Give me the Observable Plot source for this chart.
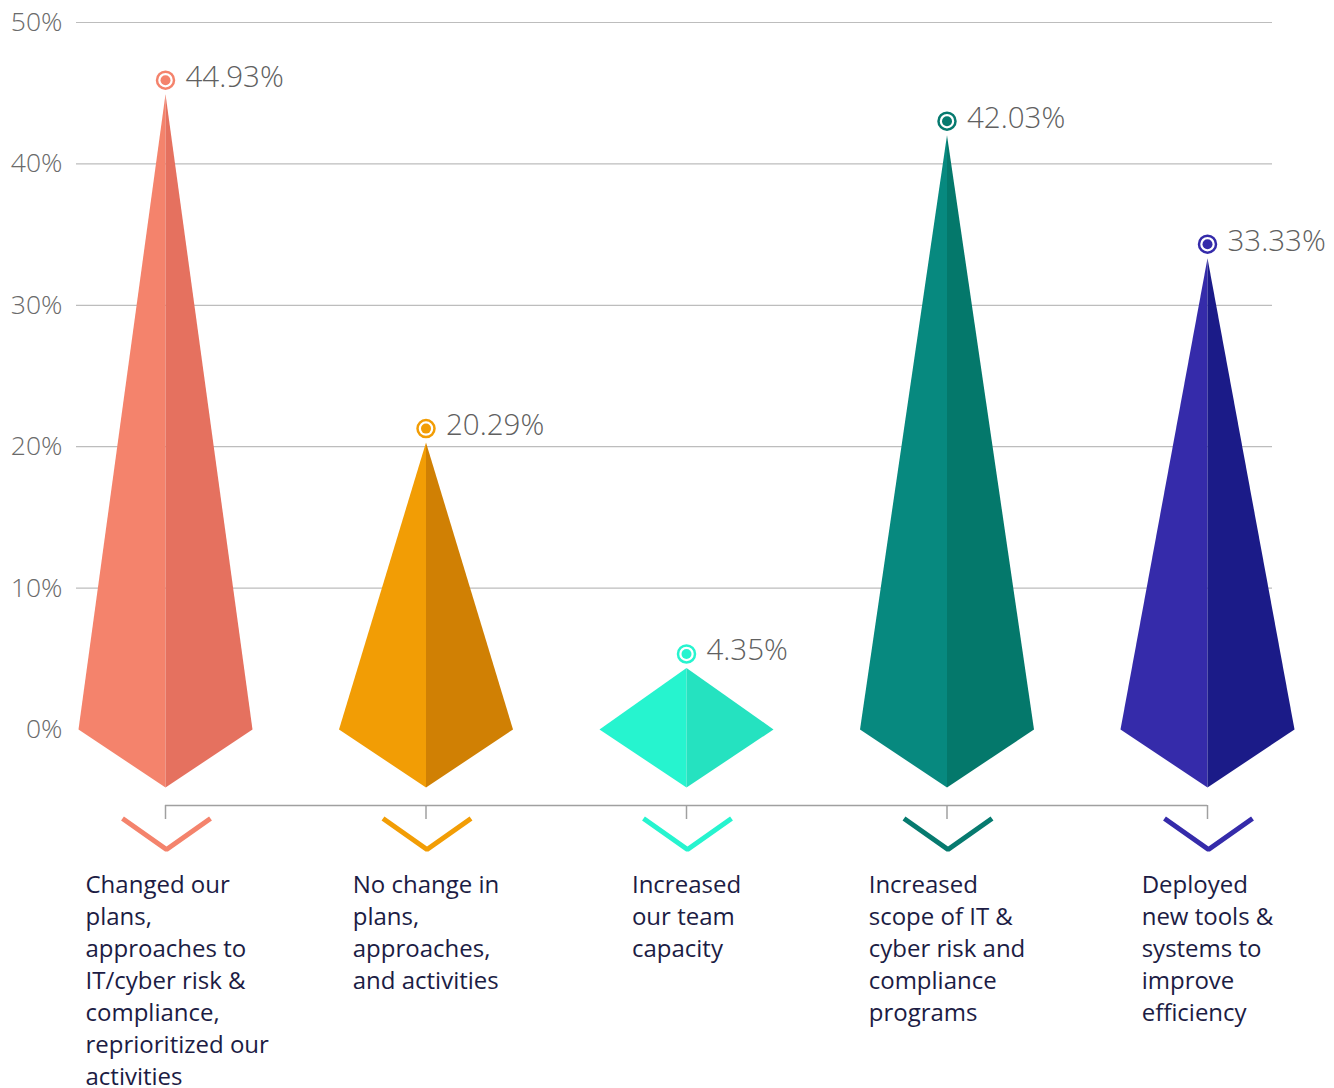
<!DOCTYPE html>
<html>
<head>
<meta charset="utf-8">
<script src="https://cdn.jsdelivr.net/npm/d3@7"></script>
<script src="https://cdn.jsdelivr.net/npm/@observablehq/plot@0.6"></script>
<style>
  body { margin: 0; background: #fff; }
  #chart svg { display: block; }
</style>
</head>
<body>
<div id="chart"></div>
<script>
// ---- data ----
const categories = [
  "Changed our plans, approaches to IT/cyber risk & compliance, reprioritized our activities",
  "No change in plans, approaches, and activities",
  "Increased our team capacity",
  "Increased scope of IT & cyber risk and compliance programs",
  "Deployed new tools & systems to improve efficiency"
];
const values = [44.93, 20.29, 4.35, 42.03, 33.33];
const labelLines = [
  "Changed our\nplans,\napproaches to\nIT/cyber risk &\ncompliance,\nreprioritized our\nactivities",
  "No change in\nplans,\napproaches,\nand activities",
  "Increased\nour team\ncapacity",
  "Increased\nscope of IT &\ncyber risk and\ncompliance\nprograms",
  "Deployed\nnew tools &\nsystems to\nimprove\nefficiency"
];
const lightColors  = ["#F4836C", "#F29D05", "#26F4CF", "#07897F", "#352BAA"];
const darkColors   = ["#E5715F", "#D08004", "#25E2C0", "#04786B", "#1B1B88"];
const accentColors = ["#F4836C", "#F29D05", "#26F4CF", "#067A6F", "#352BAA"];
const yTicks = [0, 10, 20, 30, 40, 50];

// ---- layout (pixels) ----
const W = 1334, H = 1088;
const yRange = [729, 22], yDomain = [0, 50];
const xRange = [165, 1207], xDomain = [0, categories.length - 1];
const pxY = (yRange[0] - yRange[1]) / (yDomain[1] - yDomain[0]);
const pxX = (xRange[1] - xRange[0]) / (xDomain[1] - xDomain[0]);
const py = p => -p / pxY;   // pixels below zero -> data units
const px = p => p / pxX;    // pixel offset -> index units

const halfW = px(87), kiteBottom = py(58);
const axisLineY = py(76), tickEndY = py(90);
const chevTopY = py(89), chevBotY = py(120);
const labelTopY = py(141);

const rows = categories.map((c, i) => ({i, c, v: values[i], label: labelLines[i],
  light: lightColors[i], dark: darkColors[i], accent: accentColors[i]}));

// kite halves
const leftHalves = rows.flatMap(d => [
  {k: d.i, x: d.i - halfW, y: 0, f: d.light},
  {k: d.i, x: d.i, y: d.v, f: d.light},
  {k: d.i, x: d.i, y: kiteBottom, f: d.light}
]);
const rightHalves = rows.flatMap(d => [
  {k: d.i, x: d.i, y: d.v, f: d.dark},
  {k: d.i, x: d.i + halfW, y: 0, f: d.dark},
  {k: d.i, x: d.i, y: kiteBottom, f: d.dark}
]);
const chevrons = rows.flatMap(d => [
  {k: d.i, x: d.i - px(43), y: chevTopY, s: d.accent},
  {k: d.i, x: d.i + px(1), y: chevBotY, s: d.accent},
  {k: d.i, x: d.i + px(45), y: chevTopY, s: d.accent}
]);

// label blocks: roughly center each left-aligned block on its category
const ctx = document.createElement("canvas").getContext("2d");
ctx.font = "24px 'Open Sans'";
rows.forEach(d => {
  const w = Math.max(...d.label.split("\n").map(l => ctx.measureText(l).width));
  d.lx = d.i - px(Math.min(w / 2, 80));
});

const plot = Plot.plot({
  width: W,
  height: H,
  marginLeft: 76,
  marginRight: W - 1272,
  marginTop: 22,
  marginBottom: H - 729,
  style: {fontFamily: "'Open Sans', sans-serif", background: "#fff"},
  x: {domain: xDomain, range: xRange, axis: null},
  y: {domain: yDomain, range: yRange, axis: null},
  color: {type: "identity"},
  marks: [
    Plot.gridY(yTicks.filter(t => t > 0), {stroke: "#bdbdbd", strokeOpacity: 1, strokeWidth: 1.2}),
    Plot.axisY(yTicks, {tickFormat: d => d + "%", tickSize: 0, tickPadding: 14, fontSize: 26.5,
      fontWeight: 300, color: "#6a6a6a", label: null}),
    Plot.line(leftHalves, {x: "x", y: "y", z: "k", fill: "f", stroke: null}),
    Plot.line(rightHalves, {x: "x", y: "y", z: "k", fill: "f", stroke: null}),
    Plot.ruleY([axisLineY], {x1: xDomain[0], x2: xDomain[1], stroke: "#a0a0a0", strokeWidth: 1.5}),
    Plot.ruleX(rows, {x: "i", y1: axisLineY, y2: tickEndY, stroke: "#a0a0a0", strokeWidth: 1.5}),
    Plot.line(chevrons, {x: "x", y: "y", z: "k", stroke: "s", strokeWidth: 5,
      strokeLinejoin: "miter", strokeLinecap: "butt"}),
    Plot.dot(rows, {x: "i", y: "v", dy: -14, r: 8.5, fill: "#fff", stroke: "accent", strokeWidth: 2.5}),
    Plot.dot(rows, {x: "i", y: "v", dy: -14, r: 5, fill: "accent", stroke: null}),
    Plot.text(rows, {x: "i", y: "v", text: d => d.v.toFixed(2) + "%", dx: 20, dy: -17,
      textAnchor: "start", lineAnchor: "middle", fontSize: 29.5, fontWeight: 300, fill: "#606060"}),
    Plot.text(rows, {x: "lx", y: () => labelTopY, text: "label",
      textAnchor: "start", lineAnchor: "top", lineHeight: 32 / 24, fontSize: 24,
      fill: "#1c1c44"})
  ]
});
document.getElementById("chart").appendChild(plot);
</script>
</body>
</html>
